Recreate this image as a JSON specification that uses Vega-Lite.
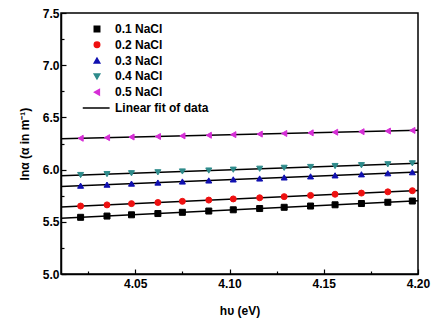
{
  "$schema": "https://vega.github.io/schema/vega-lite/v6.json",
  "autosize": "none",
  "width": 357,
  "height": 261,
  "padding": {"left": 61, "top": 13, "right": 22, "bottom": 52},
  "background": "white",
  "config": {
    "font": "Liberation Sans",
    "view": {"stroke": "#000000", "strokeWidth": 1.5},
    "axis": {
      "labelFont": "Liberation Sans", "labelFontWeight": "bold", "labelFontSize": 12, "labelColor": "#000000",
      "titleFont": "Liberation Sans", "titleFontWeight": "bold", "titleFontSize": 12, "titleColor": "#000000",
      "domainColor": "#000000", "domainWidth": 1.5, "tickColor": "#000000", "tickWidth": 1.2, "grid": false
    },
    "legend": {"labelFont": "Liberation Sans", "labelFontWeight": "bold", "labelFontSize": 12, "labelColor": "#000000"}
  },
  "datasets": {
    "pts": [
      {"x": 4.021, "y": 5.543, "s": "0.1 NaCl"}, {"x": 4.035, "y": 5.555, "s": "0.1 NaCl"}, {"x": 4.048, "y": 5.567, "s": "0.1 NaCl"}, {"x": 4.062, "y": 5.579, "s": "0.1 NaCl"}, {"x": 4.075, "y": 5.591, "s": "0.1 NaCl"}, {"x": 4.089, "y": 5.603, "s": "0.1 NaCl"}, {"x": 4.102, "y": 5.615, "s": "0.1 NaCl"}, {"x": 4.116, "y": 5.627, "s": "0.1 NaCl"}, {"x": 4.129, "y": 5.639, "s": "0.1 NaCl"}, {"x": 4.143, "y": 5.651, "s": "0.1 NaCl"}, {"x": 4.156, "y": 5.663, "s": "0.1 NaCl"}, {"x": 4.170, "y": 5.675, "s": "0.1 NaCl"}, {"x": 4.184, "y": 5.687, "s": "0.1 NaCl"}, {"x": 4.197, "y": 5.699, "s": "0.1 NaCl"},
      {"x": 4.021, "y": 5.651, "s": "0.2 NaCl"}, {"x": 4.035, "y": 5.662, "s": "0.2 NaCl"}, {"x": 4.048, "y": 5.674, "s": "0.2 NaCl"}, {"x": 4.062, "y": 5.685, "s": "0.2 NaCl"}, {"x": 4.075, "y": 5.696, "s": "0.2 NaCl"}, {"x": 4.089, "y": 5.708, "s": "0.2 NaCl"}, {"x": 4.102, "y": 5.719, "s": "0.2 NaCl"}, {"x": 4.116, "y": 5.730, "s": "0.2 NaCl"}, {"x": 4.129, "y": 5.741, "s": "0.2 NaCl"}, {"x": 4.143, "y": 5.753, "s": "0.2 NaCl"}, {"x": 4.156, "y": 5.764, "s": "0.2 NaCl"}, {"x": 4.170, "y": 5.775, "s": "0.2 NaCl"}, {"x": 4.184, "y": 5.787, "s": "0.2 NaCl"}, {"x": 4.197, "y": 5.798, "s": "0.2 NaCl"},
      {"x": 4.021, "y": 5.846, "s": "0.3 NaCl"}, {"x": 4.035, "y": 5.856, "s": "0.3 NaCl"}, {"x": 4.048, "y": 5.866, "s": "0.3 NaCl"}, {"x": 4.062, "y": 5.876, "s": "0.3 NaCl"}, {"x": 4.075, "y": 5.886, "s": "0.3 NaCl"}, {"x": 4.089, "y": 5.896, "s": "0.3 NaCl"}, {"x": 4.102, "y": 5.906, "s": "0.3 NaCl"}, {"x": 4.116, "y": 5.915, "s": "0.3 NaCl"}, {"x": 4.129, "y": 5.925, "s": "0.3 NaCl"}, {"x": 4.143, "y": 5.935, "s": "0.3 NaCl"}, {"x": 4.156, "y": 5.945, "s": "0.3 NaCl"}, {"x": 4.170, "y": 5.955, "s": "0.3 NaCl"}, {"x": 4.184, "y": 5.965, "s": "0.3 NaCl"}, {"x": 4.197, "y": 5.975, "s": "0.3 NaCl"},
      {"x": 4.021, "y": 5.948, "s": "0.4 NaCl"}, {"x": 4.035, "y": 5.957, "s": "0.4 NaCl"}, {"x": 4.048, "y": 5.965, "s": "0.4 NaCl"}, {"x": 4.062, "y": 5.974, "s": "0.4 NaCl"}, {"x": 4.075, "y": 5.982, "s": "0.4 NaCl"}, {"x": 4.089, "y": 5.991, "s": "0.4 NaCl"}, {"x": 4.102, "y": 5.999, "s": "0.4 NaCl"}, {"x": 4.116, "y": 6.008, "s": "0.4 NaCl"}, {"x": 4.129, "y": 6.017, "s": "0.4 NaCl"}, {"x": 4.143, "y": 6.025, "s": "0.4 NaCl"}, {"x": 4.156, "y": 6.034, "s": "0.4 NaCl"}, {"x": 4.170, "y": 6.042, "s": "0.4 NaCl"}, {"x": 4.184, "y": 6.051, "s": "0.4 NaCl"}, {"x": 4.197, "y": 6.060, "s": "0.4 NaCl"},
      {"x": 4.021, "y": 6.300, "s": "0.5 NaCl"}, {"x": 4.035, "y": 6.306, "s": "0.5 NaCl"}, {"x": 4.048, "y": 6.312, "s": "0.5 NaCl"}, {"x": 4.062, "y": 6.317, "s": "0.5 NaCl"}, {"x": 4.075, "y": 6.323, "s": "0.5 NaCl"}, {"x": 4.089, "y": 6.329, "s": "0.5 NaCl"}, {"x": 4.102, "y": 6.335, "s": "0.5 NaCl"}, {"x": 4.116, "y": 6.340, "s": "0.5 NaCl"}, {"x": 4.129, "y": 6.346, "s": "0.5 NaCl"}, {"x": 4.143, "y": 6.352, "s": "0.5 NaCl"}, {"x": 4.156, "y": 6.358, "s": "0.5 NaCl"}, {"x": 4.170, "y": 6.363, "s": "0.5 NaCl"}, {"x": 4.184, "y": 6.369, "s": "0.5 NaCl"}, {"x": 4.197, "y": 6.375, "s": "0.5 NaCl"}
    ],
    "fit": [
      {"x": 4.0106, "y": 5.534, "s": "0.1 NaCl"}, {"x": 4.2, "y": 5.702, "s": "0.1 NaCl"},
      {"x": 4.0106, "y": 5.642, "s": "0.2 NaCl"}, {"x": 4.2, "y": 5.800, "s": "0.2 NaCl"},
      {"x": 4.0106, "y": 5.838, "s": "0.3 NaCl"}, {"x": 4.2, "y": 5.977, "s": "0.3 NaCl"},
      {"x": 4.0106, "y": 5.941, "s": "0.4 NaCl"}, {"x": 4.2, "y": 6.062, "s": "0.4 NaCl"},
      {"x": 4.0106, "y": 6.296, "s": "0.5 NaCl"}, {"x": 4.2, "y": 6.377, "s": "0.5 NaCl"}
    ]
  },
  "encoding": {
    "x": {
      "field": "x", "type": "quantitative",
      "scale": {"domain": [4.0106, 4.2], "nice": false, "zero": false},
      "axis": {
        "title": "hυ (eV)", "titlePadding": 16,
        "values": [4.025, 4.05, 4.075, 4.1, 4.125, 4.15, 4.175, 4.2],
        "format": ".2f", "labelFlush": false, "labelPadding": 9,
        "labelExpr": "round(datum.value*1000)%50==0 ? datum.label : ''",
        "tickSize": {"condition": {"test": "round(datum.value*1000)%50==0", "value": -5}, "value": -3}
      }
    },
    "y": {
      "field": "y", "type": "quantitative",
      "scale": {"domain": [5.0, 7.5], "nice": false, "zero": false},
      "axis": {
        "title": "lnα (α in m⁻¹)", "titlePadding": 11,
        "values": [5, 5.25, 5.5, 5.75, 6, 6.25, 6.5, 6.75, 7, 7.25, 7.5],
        "format": ".1f", "labelPadding": 7,
        "labelExpr": "round(datum.value*100)%50==0 ? datum.label : ''",
        "tickSize": {"condition": {"test": "round(datum.value*100)%50==0", "value": -5}, "value": -3}
      }
    }
  },
  "layer": [
    {
      "data": {"name": "fit"},
      "mark": {"type": "line", "color": "#000000", "strokeWidth": 1.5},
      "encoding": {"detail": {"field": "s"}}
    },
    {
      "data": {"name": "pts"},
      "mark": {"type": "point", "filled": true, "opacity": 1, "size": 36, "strokeWidth": 1},
      "encoding": {
        "color": {
          "field": "s", "type": "nominal",
          "scale": {"domain": ["0.1 NaCl", "0.2 NaCl", "0.3 NaCl", "0.4 NaCl", "0.5 NaCl", "Linear fit of data"], "range": ["#000000", "#ee1111", "#1010b0", "#2e8b8b", "#d62ed6", "#000000"]},
          "legend": {"title": null, "orient": "none", "legendX": 30, "legendY": 10, "labelOffset": 12, "rowPadding": 3.8, "symbolStrokeWidth": 1.5, "symbolSize": 30}
        },
        "stroke": {
          "field": "s", "type": "nominal",
          "scale": {"domain": ["0.1 NaCl", "0.2 NaCl", "0.3 NaCl", "0.4 NaCl", "0.5 NaCl", "Linear fit of data"], "range": ["#000000", "#ee1111", "#1010b0", "#2e8b8b", "#d62ed6", "#000000"]},
          "legend": {"title": null, "orient": "none", "legendX": 30, "legendY": 10, "labelOffset": 12, "rowPadding": 3.8, "symbolStrokeWidth": 1.5, "symbolSize": 30}
        },
        "shape": {
          "field": "s", "type": "nominal",
          "scale": {"domain": ["0.1 NaCl", "0.2 NaCl", "0.3 NaCl", "0.4 NaCl", "0.5 NaCl", "Linear fit of data"], "range": ["square", "circle", "triangle-up", "triangle-down", "triangle-left", "M-5.2,0H4.6"]},
          "legend": {"title": null, "orient": "none", "legendX": 30, "legendY": 10, "labelOffset": 12, "rowPadding": 3.8, "symbolStrokeWidth": 1.5, "symbolSize": 30}
        }
      }
    }
  ]
}
